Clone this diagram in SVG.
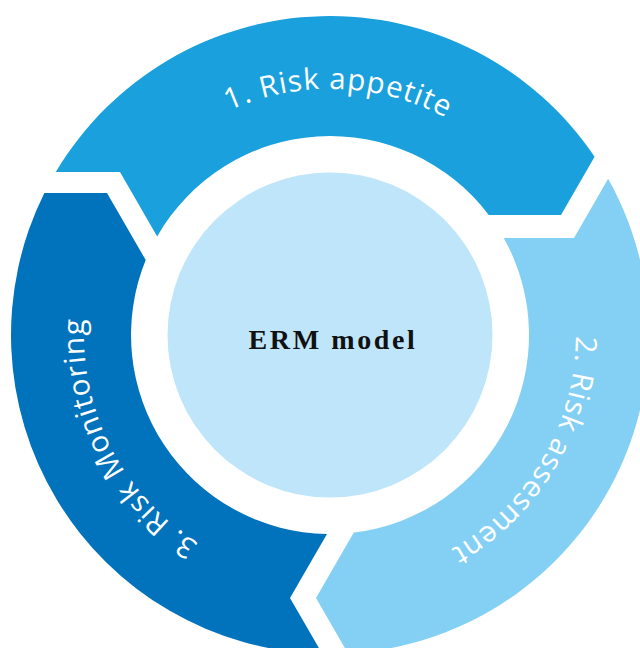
<svg xmlns="http://www.w3.org/2000/svg" xmlns:xlink="http://www.w3.org/1999/xlink" width="640" height="648" viewBox="0 0 640 648">
<style>
.lbl{font-family:"Open Sans",Roboto,"Liberation Sans",sans-serif;font-size:29.5px;fill:#ffffff;letter-spacing:1px}
.ctr{font-family:"Liberation Serif","DejaVu Serif",serif;font-size:28px;font-weight:bold;fill:#111111;letter-spacing:2.6px}
</style>
<defs>
<path id="p1" d="M86.4 369.2 A246 246 0 1 1 570.6 386.1"/>
<path id="p2" d="M416.1 104.6 A246 246 0 1 1 170.2 522.1"/>
<path id="p3" d="M478.0 531.5 A246 246 0 1 1 258.1 99.8"/>
</defs>
<rect width="640" height="648" fill="#ffffff"/>
<g id="connectors"></g>
<g id="seg1">
<path fill="#1aa0dc" d="M55.8 172 A319 319 0 0 1 594.6 156.8 L561 215 L488.75 215 A199 199 0 0 0 157.2 236.4 L120 172 Z"/>
<text class="lbl"><textPath xlink:href="#p1" href="#p1" startOffset="50%" text-anchor="middle">1. Risk appetite</textPath></text>
</g>
<g id="seg2">
<path fill="#84d0f5" d="M608.15 178.85 A319 319 0 0 1 348.05 653.5 L316 598 L353.8 532.6 A199 199 0 0 0 503.76 238 L574 238 Z"/>
<text class="lbl"><textPath xlink:href="#p2" href="#p2" startOffset="50%" text-anchor="middle">2. Risk assesment</textPath></text>
</g>
<g id="seg3">
<path fill="#0073bc" d="M322.3 653.9 A319 319 0 0 1 44.35 193 L107 193 L145.7 260 A199 199 0 0 0 326.98 533.96 L290 598 Z"/>
<text class="lbl"><textPath xlink:href="#p3" href="#p3" startOffset="50%" text-anchor="middle">3. Risk Monitoring</textPath></text>
</g>
<g id="center">
<circle cx="330" cy="335" r="162.5" fill="#bee5fa"/>
<text class="ctr" x="333" y="349" text-anchor="middle">ERM model</text>
</g>
</svg>
